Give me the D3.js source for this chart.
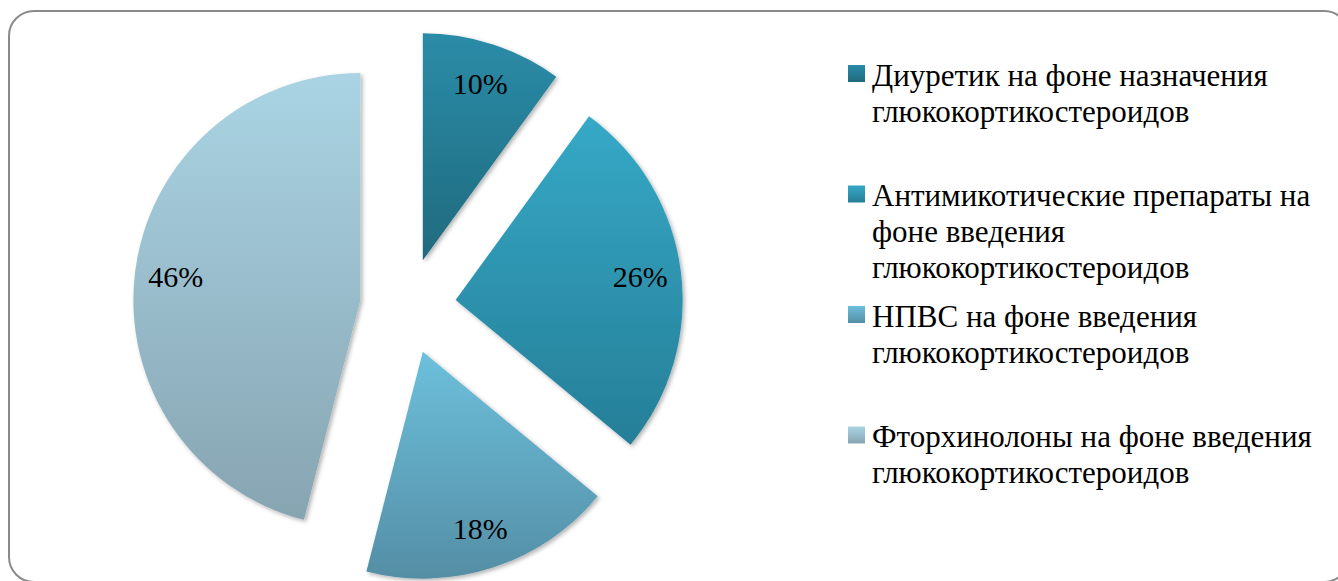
<!DOCTYPE html>
<html>
<head>
<meta charset="utf-8">
<script src="https://cdn.jsdelivr.net/npm/d3@7"></script>
<style>
  body { margin: 0; background: #fff; }
  svg { display: block; }
  text { font-family: "Liberation Serif", "DejaVu Serif", "Times New Roman", Times, serif; }
</style>
</head>
<body>
<div id="piechart"></div>
<script>
// data
const categories = [
  "Диуретик на фоне назначения|глюкокортикостероидов",
  "Антимикотические препараты на|фоне введения|глюкокортикостероидов",
  "НПВС на фоне введения|глюкокортикостероидов",
  "Фторхинолоны на фоне введения|глюкокортикостероидов"
];
const values = [10, 26, 18, 46];
const topColors = ["#2b8ca8", "#35a9c7", "#6dc0dc", "#aad4e4"];
const bottomColors = ["#1f6a7d", "#267e97", "#548ea5", "#87a4b1"];

const width = 1338, height = 581;
const outRadius = 227, explode = 48;
const cx = 408, cy = 306;

const svg = d3.select("#piechart")
  .append("svg")
  .attr("width", width)
  .attr("height", height);

const defs = svg.append("defs");
categories.forEach((c, i) => {
  const g = defs.append("linearGradient")
    .attr("id", "grad" + i)
    .attr("x1", 0).attr("y1", 0).attr("x2", 0).attr("y2", 1);
  g.append("stop").attr("offset", "0%").attr("stop-color", topColors[i]);
  g.append("stop").attr("offset", "100%").attr("stop-color", bottomColors[i]);
});
defs.append("filter")
  .attr("id", "shadow")
  .attr("x", "-10%").attr("y", "-10%").attr("width", "120%").attr("height", "120%")
  .append("feDropShadow")
  .attr("dx", 2).attr("dy", 2).attr("stdDeviation", 2)
  .attr("flood-color", "#000").attr("flood-opacity", 0.3);

// frame
svg.append("rect")
  .attr("x", 9).attr("y", 11)
  .attr("width", 1340).attr("height", 571)
  .attr("rx", 25).attr("ry", 25)
  .attr("fill", "#fff")
  .attr("stroke", "#8a8a8a")
  .attr("stroke-width", 2);

const pieData = d3.pie().sort(null).value(d => d)(values);
const arc = d3.arc().innerRadius(0).outerRadius(outRadius);
const labelArc = d3.arc().innerRadius(outRadius * 0.82).outerRadius(outRadius * 0.82);

const slices = svg.append("g")
  .attr("transform", "translate(" + cx + "," + cy + ")")
  .selectAll("g").data(pieData).enter()
  .append("g")
  .attr("transform", d => {
    const mid = (d.startAngle + d.endAngle) / 2;
    return "translate(" + (Math.sin(mid) * explode) + "," + (-Math.cos(mid) * explode) + ")";
  });

slices.append("path")
  .attr("d", arc)
  .attr("fill", (d, i) => "url(#grad" + i + ")")
  .attr("filter", "url(#shadow)");

slices.append("text")
  .attr("transform", d => "translate(" + labelArc.centroid(d) + ")")
  .attr("dy", "0.35em")
  .attr("text-anchor", "middle")
  .attr("font-size", 30)
  .attr("fill", "#000")
  .text(d => d.data + "%");

// legend
const legend = svg.append("g")
  .selectAll("g").data(categories).enter()
  .append("g")
  .attr("transform", (d, i) => "translate(848," + (73.5 + i * 120.5) + ")");

legend.append("rect")
  .attr("x", 0).attr("y", -8.5)
  .attr("width", 17).attr("height", 17)
  .attr("fill", (d, i) => "url(#grad" + i + ")");

const lt = legend.append("text")
  .attr("x", 24).attr("y", 12)
  .attr("font-size", 31)
  .attr("fill", "#000");

lt.selectAll("tspan").data(d => d.split("|")).enter()
  .append("tspan")
  .attr("x", 24)
  .attr("dy", (d, i) => i === 0 ? 0 : 36)
  .text(d => d);
</script>
</body>
</html>
